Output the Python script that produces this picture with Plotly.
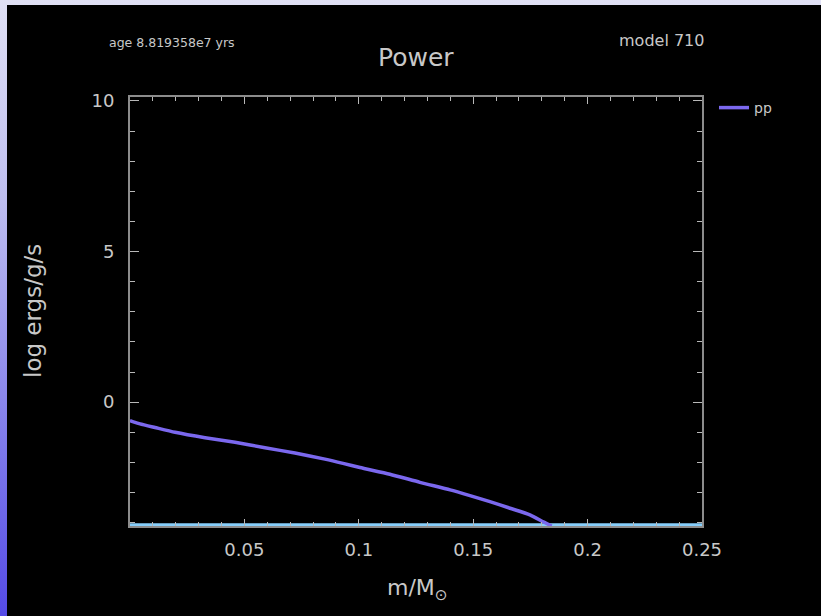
import plotly.graph_objects as go

# ---- data ----
mass = [0.0, 0.0022, 0.0044, 0.0109, 0.0197, 0.0328, 0.0459, 0.059, 0.0721,
        0.0852, 0.0931, 0.1005, 0.1136, 0.1267, 0.1399, 0.1486, 0.1573,
        0.1661, 0.1748, 0.1806, 0.1843]
pp_power = [-0.61, -0.67, -0.72, -0.84, -1.0, -1.18, -1.33, -1.51, -1.69,
            -1.89, -2.03, -2.17, -2.39, -2.66, -2.91, -3.10, -3.30,
            -3.52, -3.74, -3.97, -4.11]
floor_mass = [0.0, 0.25]
floor_power = [-4.07, -4.07]

x_tickvals = [0.05, 0.1, 0.15, 0.2, 0.25]
x_ticktext = ["0.05", "0.1", "0.15", "0.2", "0.25"]
y_tickvals = [0, 5, 10]
y_ticktext = ["0", "5", "10"]

x_range = [0.0, 0.25]
y_range = [-4.11, 10.13]

# ---- layout geometry (page pixels) ----
OX, OY = 7, 5                 # figure offset inside the page
W, H = 821 - OX, 616 - OY     # figure size
PL, PR, PT, PB = 130, 702, 97, 526   # plot area in page pixels
L, T = PL - OX, PT - OY
R, B = 821 - PR, 616 - PB
PW, PH = PR - PL, PB - PT

def px_x(p):
    return (p - PL) / PW

def px_y(p):
    return (PB - p) / PH

FONT = "DejaVu Sans"
TXT = "#c8c8c8"

fig = go.Figure()
fig.add_trace(go.Scatter(x=floor_mass, y=floor_power, mode="lines",
                         line=dict(color="#87cefa", width=3), showlegend=False,
                         hoverinfo="skip"))
fig.add_trace(go.Scatter(x=mass, y=pp_power, mode="lines", name="pp",
                         line=dict(color="#7b68ee", width=3.5, shape="spline",
                                   smoothing=0.6)))

annotations = [
    dict(text="Power", xref="paper", yref="paper", x=0.5, y=px_y(57),
         xanchor="center", yanchor="middle", showarrow=False,
         font=dict(family=FONT, size=25, color=TXT)),
    dict(text="age 8.819358e7 yrs", xref="paper", yref="paper", x=px_x(107),
         y=px_y(42), xanchor="left", yanchor="middle", showarrow=False,
         font=dict(family=FONT, size=12.5, color=TXT)),
    dict(text="model 710", xref="paper", yref="paper", x=px_x(706),
         y=px_y(41), xanchor="right", yanchor="middle", showarrow=False,
         font=dict(family=FONT, size=16, color=TXT)),
    dict(text="log ergs/g/s", xref="paper", yref="paper", x=px_x(33),
         y=px_y(311), xanchor="center", yanchor="middle", showarrow=False,
         textangle=-90, font=dict(family=FONT, size=23, color=TXT)),
    dict(text="m/M<sub>⊙</sub>", xref="paper", yref="paper", x=px_x(417),
         y=px_y(589), xanchor="center", yanchor="middle", showarrow=False,
         font=dict(family=FONT, size=22, color=TXT)),
]

axis_common = dict(showgrid=False, zeroline=False, showline=True,
                   linecolor="#8c8c8c", linewidth=2, mirror="allticks",
                   ticks="inside", tickcolor="#b8b8b8", tickwidth=1,
                   tickfont=dict(family=FONT, size=18, color=TXT))

fig.update_layout(
    width=W, height=H,
    margin=dict(l=L, r=R, t=T, b=B, pad=0),
    paper_bgcolor="black", plot_bgcolor="black",
    annotations=annotations,
    showlegend=True,
    legend=dict(x=px_x(714), y=px_y(108), xanchor="left", yanchor="middle",
                bgcolor="rgba(0,0,0,0)", borderwidth=0,
                font=dict(family=FONT, size=14, color=TXT)),
    xaxis=dict(range=x_range, tickmode="array", tickvals=x_tickvals,
               ticktext=x_ticktext, ticklen=7, ticklabelstandoff=6,
               minor=dict(dtick=0.01, tick0=0, ticks="inside", ticklen=4,
                          tickcolor="#b8b8b8"),
               **axis_common),
    yaxis=dict(range=y_range, tickmode="array", tickvals=y_tickvals,
               ticktext=y_ticktext, ticklen=9, ticklabelstandoff=10,
               minor=dict(dtick=1, tick0=0, ticks="inside", ticklen=5,
                          tickcolor="#b8b8b8"),
               **axis_common),
)

page_css = (
    "var gd=document.getElementById('{plot_id}');"
    "var bg='linear-gradient(to bottom, rgb(225,225,245) 0px, "
    "rgb(190,190,240) 200px, rgb(125,120,235) 450px, rgb(85,75,230) 616px)';"
    "document.documentElement.style.margin='0';"
    "document.documentElement.style.height='616px';"
    "document.documentElement.style.background=bg;"
    "document.body.style.margin='0';"
    "document.body.style.background='transparent';"
    "document.body.style.overflow='hidden';"
    "gd.style.position='absolute';"
    "gd.style.left='%dpx';gd.style.top='%dpx';" % (OX, OY)
)

fig.write_html("out.html", post_script=page_css)
